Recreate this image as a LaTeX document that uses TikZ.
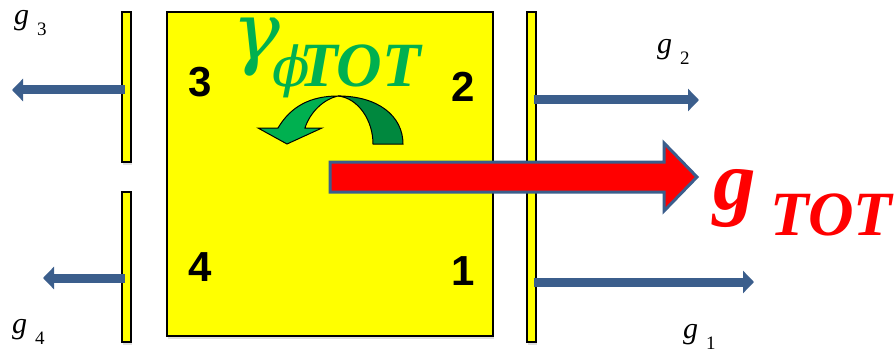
\documentclass[tikz,border=0pt]{standalone}
\usepackage{fontspec}
\setmainfont{Liberation Serif}
\newfontfamily\digitfont{Liberation Sans}
\newfontfamily\greekfont{DejaVu Serif}
\usetikzlibrary{arrows.meta,shadows}
\definecolor{boxyellow}{RGB}{255,255,0}
\definecolor{flowblue}{RGB}{59,94,140}
\definecolor{txtgreen}{RGB}{0,176,80}
\definecolor{darkgreen}{RGB}{0,136,62}
\definecolor{totred}{RGB}{255,0,0}
\newcommand{\glab}[1]{{\fontsize{30}{30}\selectfont\textit{g}}\hspace{8pt}\raisebox{-11pt}{\fontsize{19}{19}\selectfont #1}}
\begin{document}
\begin{tikzpicture}[x=1pt,y=-1pt,
  mainbox/.style={draw=black, line width=1.8pt, fill=boxyellow, inner sep=0, outer sep=0,
    anchor=north west, minimum width=326pt, minimum height=324pt,
    drop shadow={shadow xshift=1pt, shadow yshift=-3pt, opacity=0.25}},
  barbox/.style={draw=black, line width=1.3pt, fill=boxyellow, inner sep=0, outer sep=0,
    anchor=north west, minimum width=9pt,
    drop shadow={shadow xshift=1pt, shadow yshift=-3pt, opacity=0.25}},
  flow/.style={draw=flowblue, line width=9pt, -{Triangle[length=11pt,width=22pt]}},
  bigflow/.style={draw=flowblue, line width=3pt, fill=totred, line join=miter},
  digit/.style={font=\digitfont\bfseries\fontsize{42}{42}\selectfont, inner sep=0, anchor=base west},
  glabel/.style={inner sep=0, anchor=base west},
  turnlight/.style={draw=black, line width=1pt, fill=txtgreen, line join=miter},
  turndark/.style={draw=black, line width=1pt, fill=darkgreen}
]
\useasboundingbox (0,0) rectangle (895,353);

% main box and bars
\node[mainbox] (box) at (167,12) {};
\node[barbox, minimum height=150pt] (barLT) at (122,12) {};
\node[barbox, minimum height=150pt] (barLB) at (122,192) {};
\node[barbox, minimum height=330pt] (barR) at (527,12) {};

% big red arrow
\coordinate (redstart) at (330,177);
\coordinate (redtip) at (697,177);
\draw[bigflow] (redstart |- 0,162) -- (664,162) -- (664,143) -- (redtip) -- (664,211) -- (664,192) -- (redstart |- 0,192) -- cycle;

% blue flows
\coordinate (g3end) at (12,90);
\coordinate (g4end) at (43,278);
\coordinate (g2end) at (699,100);
\coordinate (g1end) at (754,282);
\draw[flow] (barLT.center |- g3end) ++(-2,0) -- (g3end);
\draw[flow] (barLB.center |- g4end) ++(-2,0) -- (g4end);
\draw[flow] (barR.center |- g2end) ++(2,0) -- (g2end);
\draw[flow] (barR.center |- g1end) ++(2,0) -- (g1end);

% curved arrow
\draw[turndark] (338,96) .. controls (378,96) and (403,116) .. (403,144) -- (373,144)
  .. controls (373,120) and (358,98) .. (338,96) -- cycle;
\draw[turnlight] (258,128) -- (278,128) .. controls (291,106) and (311,96) .. (338,96)
  .. controls (324,99) and (310,112) .. (305,128) -- (322,128) -- (287,144) -- cycle;

% digits
\node[digit] (n3) at (188,97) {3};
\node[digit] (n2) at (451,102) {2};
\node[digit] (n4) at (188,281) {4};
\node[digit] (n1) at (451,285) {1};

% flow labels
\node[glabel] (lg3) at (14,25) {\glab{3}};
\node[glabel] (lg4) at (12,333) {\glab{4}};
\node[glabel] (lg2) at (657,54) {\glab{2}};
\node[glabel] (lg1) at (683,338) {\glab{1}};

% gamma label
\node[glabel, text=txtgreen] (gam) at (232,60)
  {{\greekfont\itshape\fontsize{80}{80}\selectfont γ}\hspace{-8pt}\raisebox{-27pt}{{\greekfont\itshape\fontsize{55}{55}\selectfont ϕ}\hspace{-10pt}\fontsize{63}{63}\selectfont\bfseries\itshape TOT}};

% g TOT label
\node[glabel, text=totred] (gtot) at (713,209)
  {{\fontsize{85}{85}\selectfont\bfseries\itshape g}\hspace{15pt}\raisebox{-26pt}{\fontsize{63}{63}\selectfont\bfseries\itshape TOT}};
\end{tikzpicture}
\end{document}
